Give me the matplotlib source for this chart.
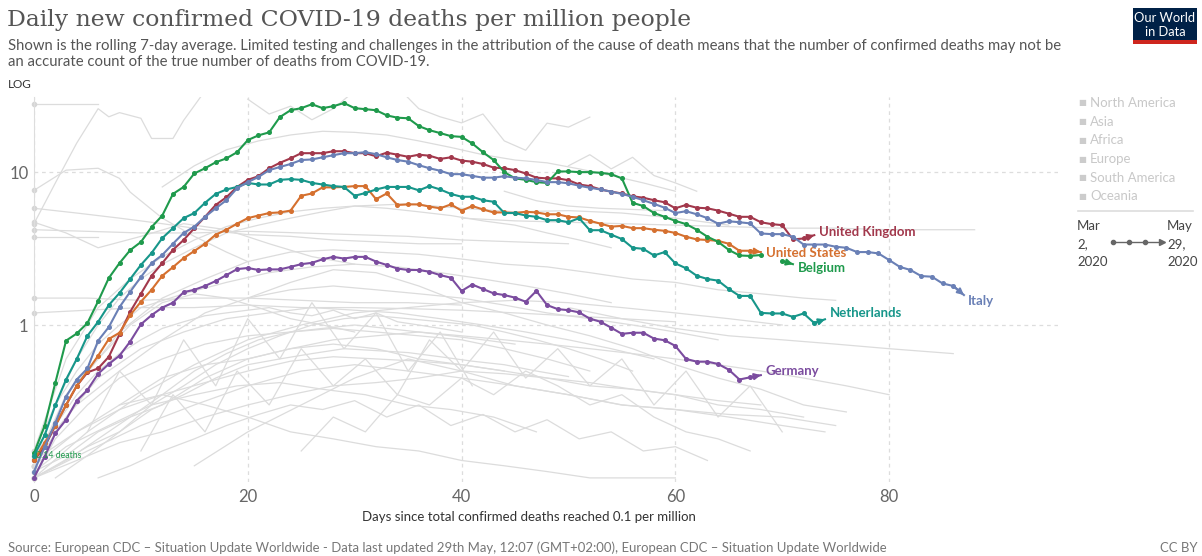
import numpy as np
import matplotlib.pyplot as plt
from matplotlib.patches import Rectangle
from matplotlib.lines import Line2D
from matplotlib.ticker import NullLocator, FixedLocator

nan = np.nan

# rolling 7-day average, one value per day since 0.1 deaths/million
belgium = [0.145, 0.22, 0.42, 0.79, 0.88, 1.03, 1.43, 2.03, 2.54, 3.09,
           3.49, 4.37, 5.2, 7.2, 8.0, 9.8, 10.6, 11.6, 12.3, 13.5,
           16.2, 17.4, 18.2, 22.9, 25.4, 26.2, 27.8, 26.2, 27.0, 28.3,
           26.2, 25.8, 25.4, 23.5, 22.7, 22.5, 20.0, 18.8, 18.0, 17.2,
           17.0, 15.4, 13.5, 12.0, 10.0, 9.1, 8.9, 8.6, 8.5, 10.1,
           10.1, 10.0, 10.0, 9.9, 9.7, 9.1, 6.3, 6.0, 5.4, 5.1,
           4.8, 4.57, 4.2, 3.78, 3.5, 3.1, 2.85, 2.83, 2.87, nan,
           2.62, 2.5]
netherlands = [0.14, 0.19, 0.30, 0.44, 0.60, 0.85, 1.05, 1.35, 1.62, 2.0,
               2.47, 2.96, 3.7, 4.3, 5.0, 5.4, 6.3, 7.2, 7.7, 8.0,
               8.5, 8.3, 8.3, 8.9, 9.0, 8.9, 8.5, 8.3, 8.1, 8.0,
               7.0, 7.3, 7.7, 8.0, 8.0, 8.0, 7.6, 8.1, 7.7, 7.2,
               6.9, 6.9, 6.55, 6.4, 5.4, 5.4, 5.2, 5.1, 4.85, 4.85,
               4.7, 5.0, 4.17, 4.17, 3.9, 3.65, 3.2, 3.15, 2.85, 3.0,
               2.53, 2.35, 2.1, 2.0, 1.95, 1.72, 1.55, 1.55, 1.2, 1.19,
               1.19, 1.13, 1.19, 1.03, 1.09]
italy = [0.11, 0.16, 0.23, 0.34, 0.44, 0.52, 0.79, 0.97, 1.31, 1.65,
         2.06, 2.54, 2.87, 3.4, 4.0, 4.4, 5.1, 5.8, 6.55, 7.85,
         8.6, 9.3, 10.3, 10.8, 11.3, 12.0, 12.1, 12.5, 12.9, 13.3,
         13.3, 13.5, 13.1, 12.5, 12.0, 11.7, 11.1, 10.6, 10.2, 9.7,
         9.7, 9.45, 9.2, 9.2, 9.4, 9.2, 9.1, 8.9, 8.6, 8.6,
         8.45, 8.15, 7.9, 7.7, 7.45, 7.2, 6.9, 6.55, 6.2, 5.85,
         5.4, 5.55, 5.3, 5.0, 4.6, 4.77, 4.7, 4.62, 3.97, 3.93,
         3.93, 3.78, 3.36, 3.36, 3.36, 3.25, 3.2, 3.0, 3.0, 2.94,
         2.66, 2.4, 2.29, 2.09, 2.07, 1.87, 1.8, 1.57]
uk = [0.13, 0.16, 0.22, 0.3, 0.4, 0.49, 0.52, 0.62, 0.87, 1.22,
      1.6, 2.1, 2.54, 3.1, 3.6, 4.3, 5.1, 6.1, 6.85, 8.0,
      8.9, 9.4, 10.6, 11.5, 12.3, 13.3, 13.3, 13.3, 13.7, 13.7,
      13.3, 13.3, 12.7, 13.4, 13.0, 12.6, 13.0, 12.8, 12.2, 12.5,
      11.9, 11.7, 11.3, 10.7, 10.6, 10.3, 9.8, 9.2, 9.1, 9.1,
      8.85, 8.3, 8.1, 7.7, 7.45, 7.25, 6.95, 6.8, 6.55, 6.35,
      5.8, 6.1, 5.85, 5.8, 5.6, 5.35, 5.1, 5.1, 4.7, 4.57,
      4.5, 3.63, 3.68, 3.87]
us = [0.13, 0.17, 0.22, 0.3, 0.4, 0.5, 0.63, 0.81, 0.89, 1.16,
      1.42, 1.7, 2.1, 2.39, 2.74, 3.05, 3.4, 3.9, 4.2, 4.6,
      5.0, 5.2, 5.4, 5.45, 5.6, 7.0, 7.25, 7.95, 7.95, 8.0,
      8.1, 8.1, 6.65, 7.25, 6.1, 6.15, 6.15, 5.95, 5.8, 6.15,
      5.6, 6.0, 5.7, 5.45, 5.45, 5.4, 5.5, 5.45, 5.3, 5.3,
      5.1, 5.05, 4.8, 4.6, 4.4, 4.45, 4.3, 4.3, 4.2, 4.13,
      4.0, 3.78, 3.63, 3.6, 3.55, 3.4, 3.06, 3.06, 3.0]
germany = [0.10, 0.138, 0.196, 0.24, 0.32, 0.376, 0.48, 0.556, 0.63, 0.78,
           1.01, 1.16, 1.3, 1.4, 1.64, 1.7, 1.8, 1.94, 2.12, 2.32,
           2.36, 2.29, 2.31, 2.31, 2.4, 2.5, 2.55, 2.69, 2.79, 2.72,
           2.79, 2.79, 2.6, 2.47, 2.34, 2.29, 2.29, 2.23, 2.12, 2.04,
           1.67, 1.84, 1.72, 1.61, 1.57, 1.51, 1.42, 1.67, 1.35, 1.27,
           1.25, 1.21, 1.1, 1.05, 0.96, 0.875, 0.89, 0.89, 0.815, 0.795,
           0.73, 0.6, 0.576, 0.576, 0.556, 0.51, 0.44, 0.455, 0.47]

countries = ['United Kingdom', 'United States', 'Belgium', 'Netherlands', 'Italy', 'Germany']
series = [uk, us, belgium, netherlands, italy, germany]

# all other countries (grey), rough readings: (days, values)
others = [
    ([0, 2, 4, 6], [28, 28, 28, 28]),
    ([0, 2, 4, 6, 7, 8, 10, 11, 13, 14, 16, 18], [4.6, 8.5, 15.5, 26, 23, 24.5, 22.5, 16.6, 16.6, 21.8, 34, 42]),
    ([0, 3, 6, 8, 9, 12, 15, 18, 20], [7.6, 10.3, 10.6, 9.1, 7.4, 5.0, 3.8, 3.0, 2.6]),
    ([0, 2, 4, 6], [3.76, 3.76, 3.76, 3.76]),
    ([0, 4, 8, 12, 16, 20, 24, 28, 32, 36, 40], [5.8, 5.4, 5.0, 4.6, 4.2, 3.9, 3.8, 3.6, 3.5, 3.4, 3.4]),
    ([0, 5, 10, 15, 20, 25, 30, 35, 40, 45, 50], [4.2, 4.1, 4.0, 4.0, 4.1, 4.0, 3.9, 3.8, 3.6, 3.5, 3.4]),
    ([0, 3, 6, 10, 14, 18, 22, 26, 30], [4.7, 4.0, 3.2, 3.8, 4.6, 4.2, 3.4, 2.8, 2.5]),
    ([0, 3, 6, 9, 12, 15, 18, 21, 24, 27, 30, 33, 36, 39, 42, 45, 48, 51, 54],
     [0.15, 0.6, 1.3, 2.0, 2.8, 3.6, 4.4, 5.0, 5.5, 5.8, 6.0, 5.8, 5.5, 5.2, 4.8, 4.5, 4.0, 3.6, 3.2]),
    ([12, 15, 18, 21, 24, 27, 30, 33, 36, 39, 42, 45, 48, 51, 54, 57, 60],
     [8, 11, 14, 16, 17.5, 18.5, 18.2, 17.5, 16, 14.5, 13, 12, 11.5, 10.5, 9.5, 8.5, 7.5]),
    ([20, 22, 24, 26, 28, 30], [30, 24, 27, 22, 26, 34]),
    ([34, 36, 38, 40, 42, 44, 46, 48, 50, 52], [36, 26, 23, 21, 24, 16, 13.9, 20.9, 19.7, 22.9]),
    ([50, 52, 54, 56, 58, 60, 62], [11, 13, 10.5, 12.5, 9.5, 8.5, 7.5]),
    ([40, 45, 50, 55, 60, 65, 70, 75, 80, 85, 88], [5.0, 4.8, 4.7, 4.6, 4.5, 4.4, 4.3, 4.3, 4.2, 4.2, 4.2]),
    ([44, 47, 50, 53, 56, 59], [7.5, 6.5, 6.0, 5.8, 5.7, 5.6]),
    ([0, 4, 8, 12, 16, 20, 24, 28, 32, 36, 40, 44, 48, 52, 56, 60, 64, 68, 72, 75],
     [0.12, 0.4, 0.9, 1.5, 2.0, 2.6, 3.0, 3.1, 3.0, 2.9, 2.7, 2.5, 2.4, 2.2, 2.0, 1.9, 1.7, 1.6, 1.5, 1.45]),
    ([0, 2, 4, 6, 8, 10, 14, 18, 22, 26, 30, 34, 38, 42, 46, 50, 54],
     [0.15, 0.3, 0.5, 0.75, 1.0, 1.3, 1.6, 1.9, 2.2, 2.4, 2.5, 2.4, 2.2, 2.0, 1.8, 1.6, 1.4]),
    ([0, 4, 8, 12, 16, 20, 24, 28, 32, 36, 40, 44, 48, 52, 56, 60, 64],
     [0.14, 0.3, 0.5, 0.8, 1.2, 1.5, 1.7, 1.8, 1.7, 1.6, 1.5, 1.35, 1.2, 1.1, 1.0, 0.9, 0.8]),
    ([50, 55, 60, 65, 70, 75, 80, 86], [1.3, 1.1, 0.95, 0.85, 0.8, 0.75, 0.7, 0.65]),
    ([0, 5, 10, 15, 20, 25, 30, 35, 40, 45, 50, 55, 60, 65, 70],
     [0.1, 0.2, 0.35, 0.55, 0.8, 1.0, 1.2, 1.3, 1.4, 1.45, 1.4, 1.3, 1.2, 1.1, 1.0]),
    ([0, 3, 6, 10, 14, 18, 22, 26, 30, 34, 38, 42, 46, 50, 54, 58],
     [0.12, 0.25, 0.45, 0.7, 0.9, 1.1, 1.2, 1.3, 1.25, 1.2, 1.1, 1.0, 0.9, 0.8, 0.7, 0.6]),
    ([0, 3, 6, 9, 12, 15, 18, 21, 24, 27, 30], [0.12, 0.35, 0.6, 1.0, 1.4, 1.6, 1.5, 1.3, 1.1, 1.0, 0.9]),
    ([0, 2, 5, 8, 12, 16, 20, 24, 28, 32, 36, 40, 44, 48, 52],
     [0.1, 0.18, 0.3, 0.45, 0.6, 0.75, 0.85, 0.9, 0.95, 0.9, 0.85, 0.8, 0.7, 0.6, 0.5]),
    ([0, 3, 7, 11, 15, 19, 23, 27, 31, 35, 39, 43, 47],
     [0.11, 0.16, 0.22, 0.3, 0.35, 0.4, 0.42, 0.38, 0.35, 0.3, 0.28, 0.25, 0.2]),
    ([0, 5, 10, 15, 20, 25, 30, 35, 40, 45, 50, 55, 60, 65, 70, 74],
     [0.1, 0.15, 0.22, 0.3, 0.4, 0.5, 0.55, 0.5, 0.45, 0.4, 0.35, 0.3, 0.28, 0.25, 0.22, 0.2]),
    ([0, 4, 8, 12, 16, 20, 24, 28, 32, 36, 40, 44, 48, 52, 56, 60, 64, 68, 72],
     [0.1, 0.13, 0.17, 0.2, 0.25, 0.3, 0.35, 0.4, 0.42, 0.45, 0.5, 0.48, 0.45, 0.4, 0.38, 0.35, 0.3, 0.28, 0.25]),
    ([0, 3, 6, 9, 12, 16, 20, 24, 28, 32, 36, 40, 44],
     [0.11, 0.14, 0.2, 0.25, 0.3, 0.45, 0.6, 0.7, 0.75, 0.7, 0.6, 0.55, 0.5]),
    ([0, 2, 5, 8, 11, 14, 17, 20, 23, 26, 29, 32, 35, 38, 41, 44, 47, 50],
     [0.1, 0.12, 0.16, 0.2, 0.28, 0.35, 0.45, 0.55, 0.6, 0.65, 0.7, 0.68, 0.66, 0.62, 0.58, 0.55, 0.5, 0.46]),
    ([0, 4, 8, 12, 16, 20, 24, 28, 32, 36, 40, 44, 48, 52, 56, 60],
     [0.13, 0.2, 0.3, 0.35, 0.3, 0.25, 0.2, 0.18, 0.16, 0.15, 0.13, 0.12, 0.11, 0.1, 0.1, 0.1]),
    ([5, 8, 11, 14, 17, 20, 23, 26, 29, 32, 35, 38, 41],
     [0.2, 0.5, 0.3, 0.8, 0.4, 1.1, 0.6, 1.4, 0.7, 1.2, 0.5, 0.9, 0.4]),
    ([10, 13, 16, 19, 22, 25, 28, 31, 34, 37, 40, 43, 46, 49, 52, 55, 58, 61, 64, 67, 70],
     [0.15, 0.35, 0.2, 0.5, 0.3, 0.7, 0.4, 0.6, 0.35, 0.8, 0.5, 0.9, 0.45, 0.7, 0.4, 0.6, 0.3, 0.5, 0.25, 0.4, 0.2]),
    ([0, 2, 4, 6, 8, 10, 12, 15, 18, 21, 24, 27, 30, 35, 40, 45, 50, 55, 60, 65],
     [0.13, 0.3, 0.6, 1.0, 1.5, 2.0, 2.5, 3.2, 4.0, 4.5, 5.0, 5.5, 6.0, 6.2, 5.8, 5.5, 5.6, 5.4, 5.0, 4.5]),
    ([15, 20, 25, 30, 35, 40, 45, 50, 55, 60, 65, 70, 75],
     [0.12, 0.2, 0.3, 0.45, 0.6, 0.5, 0.4, 0.35, 0.3, 0.28, 0.26, 0.25, 0.22]),
    ([20, 24, 28, 32, 36, 40, 44, 48, 52, 56, 60, 64, 68, 72, 76],
     [1.5, 1.9, 2.3, 2.2, 1.8, 1.4, 1.2, 1.0, 0.85, 0.7, 0.55, 0.45, 0.38, 0.3, 0.27]),
    ([0, 3, 6, 9, 12, 15, 18, 21, 24, 27, 30, 33, 36, 39, 42, 45],
     [0.1, 0.13, 0.18, 0.25, 0.35, 0.5, 0.65, 0.8, 0.9, 0.95, 1.0, 0.95, 0.9, 0.85, 0.8, 0.75]),
    ([2, 5, 8, 11, 14, 17, 20, 23, 26, 29, 32, 35, 38, 41, 44, 47, 50, 53, 56],
     [0.1, 0.14, 0.2, 0.3, 0.4, 0.55, 0.7, 0.85, 1.0, 1.1, 1.15, 1.1, 1.05, 1.0, 0.9, 0.8, 0.7, 0.6, 0.5]),
    ([0, 4, 8, 12, 16, 20, 24, 28, 32, 36, 40, 44, 48, 52, 56, 60, 64, 68],
     [0.12, 0.2, 0.28, 0.35, 0.42, 0.5, 0.58, 0.62, 0.6, 0.58, 0.55, 0.5, 0.45, 0.42, 0.38, 0.35, 0.32, 0.3]),
    ([6, 9, 12, 15, 18, 21, 24, 27, 30, 33, 36, 39, 42, 45, 48, 51, 54, 57, 60, 63],
     [0.1, 0.12, 0.15, 0.18, 0.22, 0.26, 0.3, 0.28, 0.32, 0.25, 0.3, 0.22, 0.26, 0.2, 0.24, 0.18, 0.2, 0.15, 0.16, 0.13]),
    ([0, 2, 4, 6, 8, 10, 12, 14, 16, 18, 20, 22, 24, 26, 28, 30, 32, 34, 36, 38, 40],
     [0.14, 0.22, 0.35, 0.5, 0.65, 0.8, 0.95, 1.05, 1.15, 1.2, 1.25, 1.3, 1.2, 1.15, 1.25, 1.1, 1.2, 1.05, 1.0, 0.95, 0.9]),
    ([8, 12, 16, 20, 24, 28, 32, 36, 40, 44, 48, 52, 56, 60, 64, 68, 72, 76, 80],
     [0.3, 0.45, 0.55, 0.6, 0.7, 0.8, 0.85, 0.9, 0.85, 0.8, 0.75, 0.7, 0.65, 0.6, 0.55, 0.5, 0.45, 0.4, 0.35]),
    ([25, 28, 31, 34, 37, 40, 43, 46, 49, 52, 55, 58, 61, 64, 67],
     [0.15, 0.25, 0.2, 0.35, 0.3, 0.45, 0.35, 0.5, 0.4, 0.3, 0.35, 0.25, 0.2, 0.18, 0.15]),
    ([0, 5, 10, 15, 20, 25, 30, 35, 40, 45, 50, 55, 60],
     [1.2, 1.25, 1.3, 1.3, 1.35, 1.3, 1.3, 1.28, 1.25, 1.2, 1.15, 1.1, 1.05]),
    ([0, 5, 10, 15, 20, 25, 30, 35, 40], [1.5, 1.5, 1.45, 1.5, 1.5, 1.45, 1.4, 1.4, 1.35]),
]

regions = ['North America', 'Asia', 'Africa', 'Europe', 'South America', 'Oceania']
x_ticks = [0, 20, 40, 60, 80]
y_ticks = [1, 10]

colors = ['#a2384c', '#d5702f', '#1f9a4c', '#17968a', '#6a80b6', '#7b4c9f']
label_offsets = [(5, 3), (5, -1), (5, -4), (5, 6), (4, -6), (5, 4)]

W, H = 1202, 556
plt.rcParams['font.family'] = ['Lato', 'DejaVu Sans']


def fx(x):
    return x / W


def fy(y):
    return 1 - y / H


fig = plt.figure(figsize=(W / 100, H / 100), dpi=100)
ax = fig.add_axes([fx(34), fy(482), (1058 - 34) / W, (482 - 97) / H])
ax.set_yscale('log')
ax.set_xlim(0, 95.8)
ax.set_ylim(0.094, 31)

for days, vals in others:
    ax.plot(days, vals, color='#dcdcdc', lw=0.9, zorder=1)
    if days[0] == 0:
        ax.plot(days[0], vals[0], 'o', color='#d6d6d6', ms=3, zorder=1, clip_on=False)

for name, vals, c, off in zip(countries, series, colors, label_offsets):
    d = np.arange(len(vals))
    ax.plot(d, vals, color=c, lw=1.5, zorder=3, clip_on=False)
    ax.plot(d[:-1], vals[:-1], 'o', color=c, ms=2.6, zorder=3, clip_on=False)
    ax.annotate('', xy=(d[-1], vals[-1]), xytext=(d[-2], vals[-2]),
                arrowprops=dict(arrowstyle='-|>', color=c, lw=1.5,
                                mutation_scale=9, shrinkA=0, shrinkB=0),
                zorder=3)
    ax.annotate(name, xy=(d[-1], vals[-1]), xytext=off, textcoords='offset pixels',
                color=c, fontsize=9.5, fontweight='bold', va='center', ha='left')

ax.text(0.2, 0.14, '0.14 deaths', color='#1f9a4c', fontsize=6.3, va='center', ha='left',
        zorder=4)

ax.yaxis.set_major_locator(FixedLocator(y_ticks))
ax.yaxis.set_minor_locator(NullLocator())
ax.set_yticklabels([str(t) for t in y_ticks])
ax.set_xticks(x_ticks)
ax.tick_params(length=0, labelsize=12, colors='#666666')
ax.tick_params(axis='x', pad=5)
ax.tick_params(axis='y', pad=4)
for s in ['top', 'right', 'bottom']:
    ax.spines[s].set_visible(False)
ax.spines['left'].set_color('#dddddd')
ax.grid(True, color='#dddddd', lw=0.9, ls=(0, (3, 3)))
ax.set_axisbelow(True)
ax.set_xlabel('Days since total confirmed deaths reached 0.1 per million',
              fontsize=9.5, color='#333333', labelpad=9)
ax.xaxis.set_label_coords(0.483, -0.075)

# header
fig.text(fx(7), fy(20), 'Daily new confirmed COVID-19 deaths per million people',
         family='DejaVu Serif', fontsize=16.9, color='#555555', va='center')
fig.text(fx(8), fy(46),
         'Shown is the rolling 7-day average. Limited testing and challenges in the attribution of the cause of death means that the number of confirmed deaths may not be',
         fontsize=10.74, color='#555555', va='center')
fig.text(fx(8), fy(62), 'an accurate count of the true number of deaths from COVID-19.',
         fontsize=10.74, color='#555555', va='center')
fig.text(fx(8), fy(84), 'LOG', fontsize=8.5, color='#333333', va='center')

# logo
fig.add_artist(Rectangle((fx(1133), fy(40)), 64 / W, 32 / H, transform=fig.transFigure,
                         facecolor='#002147', edgecolor='none'))
fig.add_artist(Rectangle((fx(1133), fy(44)), 64 / W, 4 / H, transform=fig.transFigure,
                         facecolor='#ce261e', edgecolor='none'))
fig.text(fx(1165), fy(18), 'Our World', fontsize=9.3, color='white', ha='center', va='center')
fig.text(fx(1165), fy(32), 'in Data', fontsize=9.3, color='white', ha='center', va='center')

# region legend (all faded)
for i, r in enumerate(regions):
    y = 103 + i * 18.7
    fig.text(fx(1078), fy(y), '\u25a0', family='DejaVu Sans', fontsize=6,
             color='#cccccc', va='center')
    fig.text(fx(1090), fy(y), r, fontsize=9.5, color='#c8c8c8', va='center')
fig.add_artist(Line2D([fx(1078), fx(1193)], [fy(211), fy(211)], color='#dddddd', lw=1.2))

# timeline
for j, t in enumerate(['Mar', '2,', '2020']):
    fig.text(fx(1077), fy(226 + j * 18), t, fontsize=9.5, color='#444444', va='center')
for j, t in enumerate(['May', '29,', '2020']):
    fig.text(fx(1167), fy(226 + j * 18), t, fontsize=9.5, color='#444444', va='center')
fig.add_artist(Line2D([fx(1113), fx(1162)], [fy(242), fy(242)], color='#666666', lw=1))
for xd in [1113, 1129, 1145]:
    fig.add_artist(Line2D([fx(xd)], [fy(242)], color='#666666', marker='o', ms=3))
fig.add_artist(Line2D([fx(1162)], [fy(242)], color='#666666', marker='>', ms=4))

# footer
fig.text(fx(8), fy(548),
         'Source: European CDC \u2013 Situation Update Worldwide - Data last updated 29th May, 12:07 (GMT+02:00), European CDC \u2013 Situation Update Worldwide',
         fontsize=9.48, color='#777777', va='center')
fig.text(fx(1197), fy(548), 'CC BY', fontsize=9.48, color='#777777', va='center', ha='right')

fig.savefig('out.png', dpi=100)
